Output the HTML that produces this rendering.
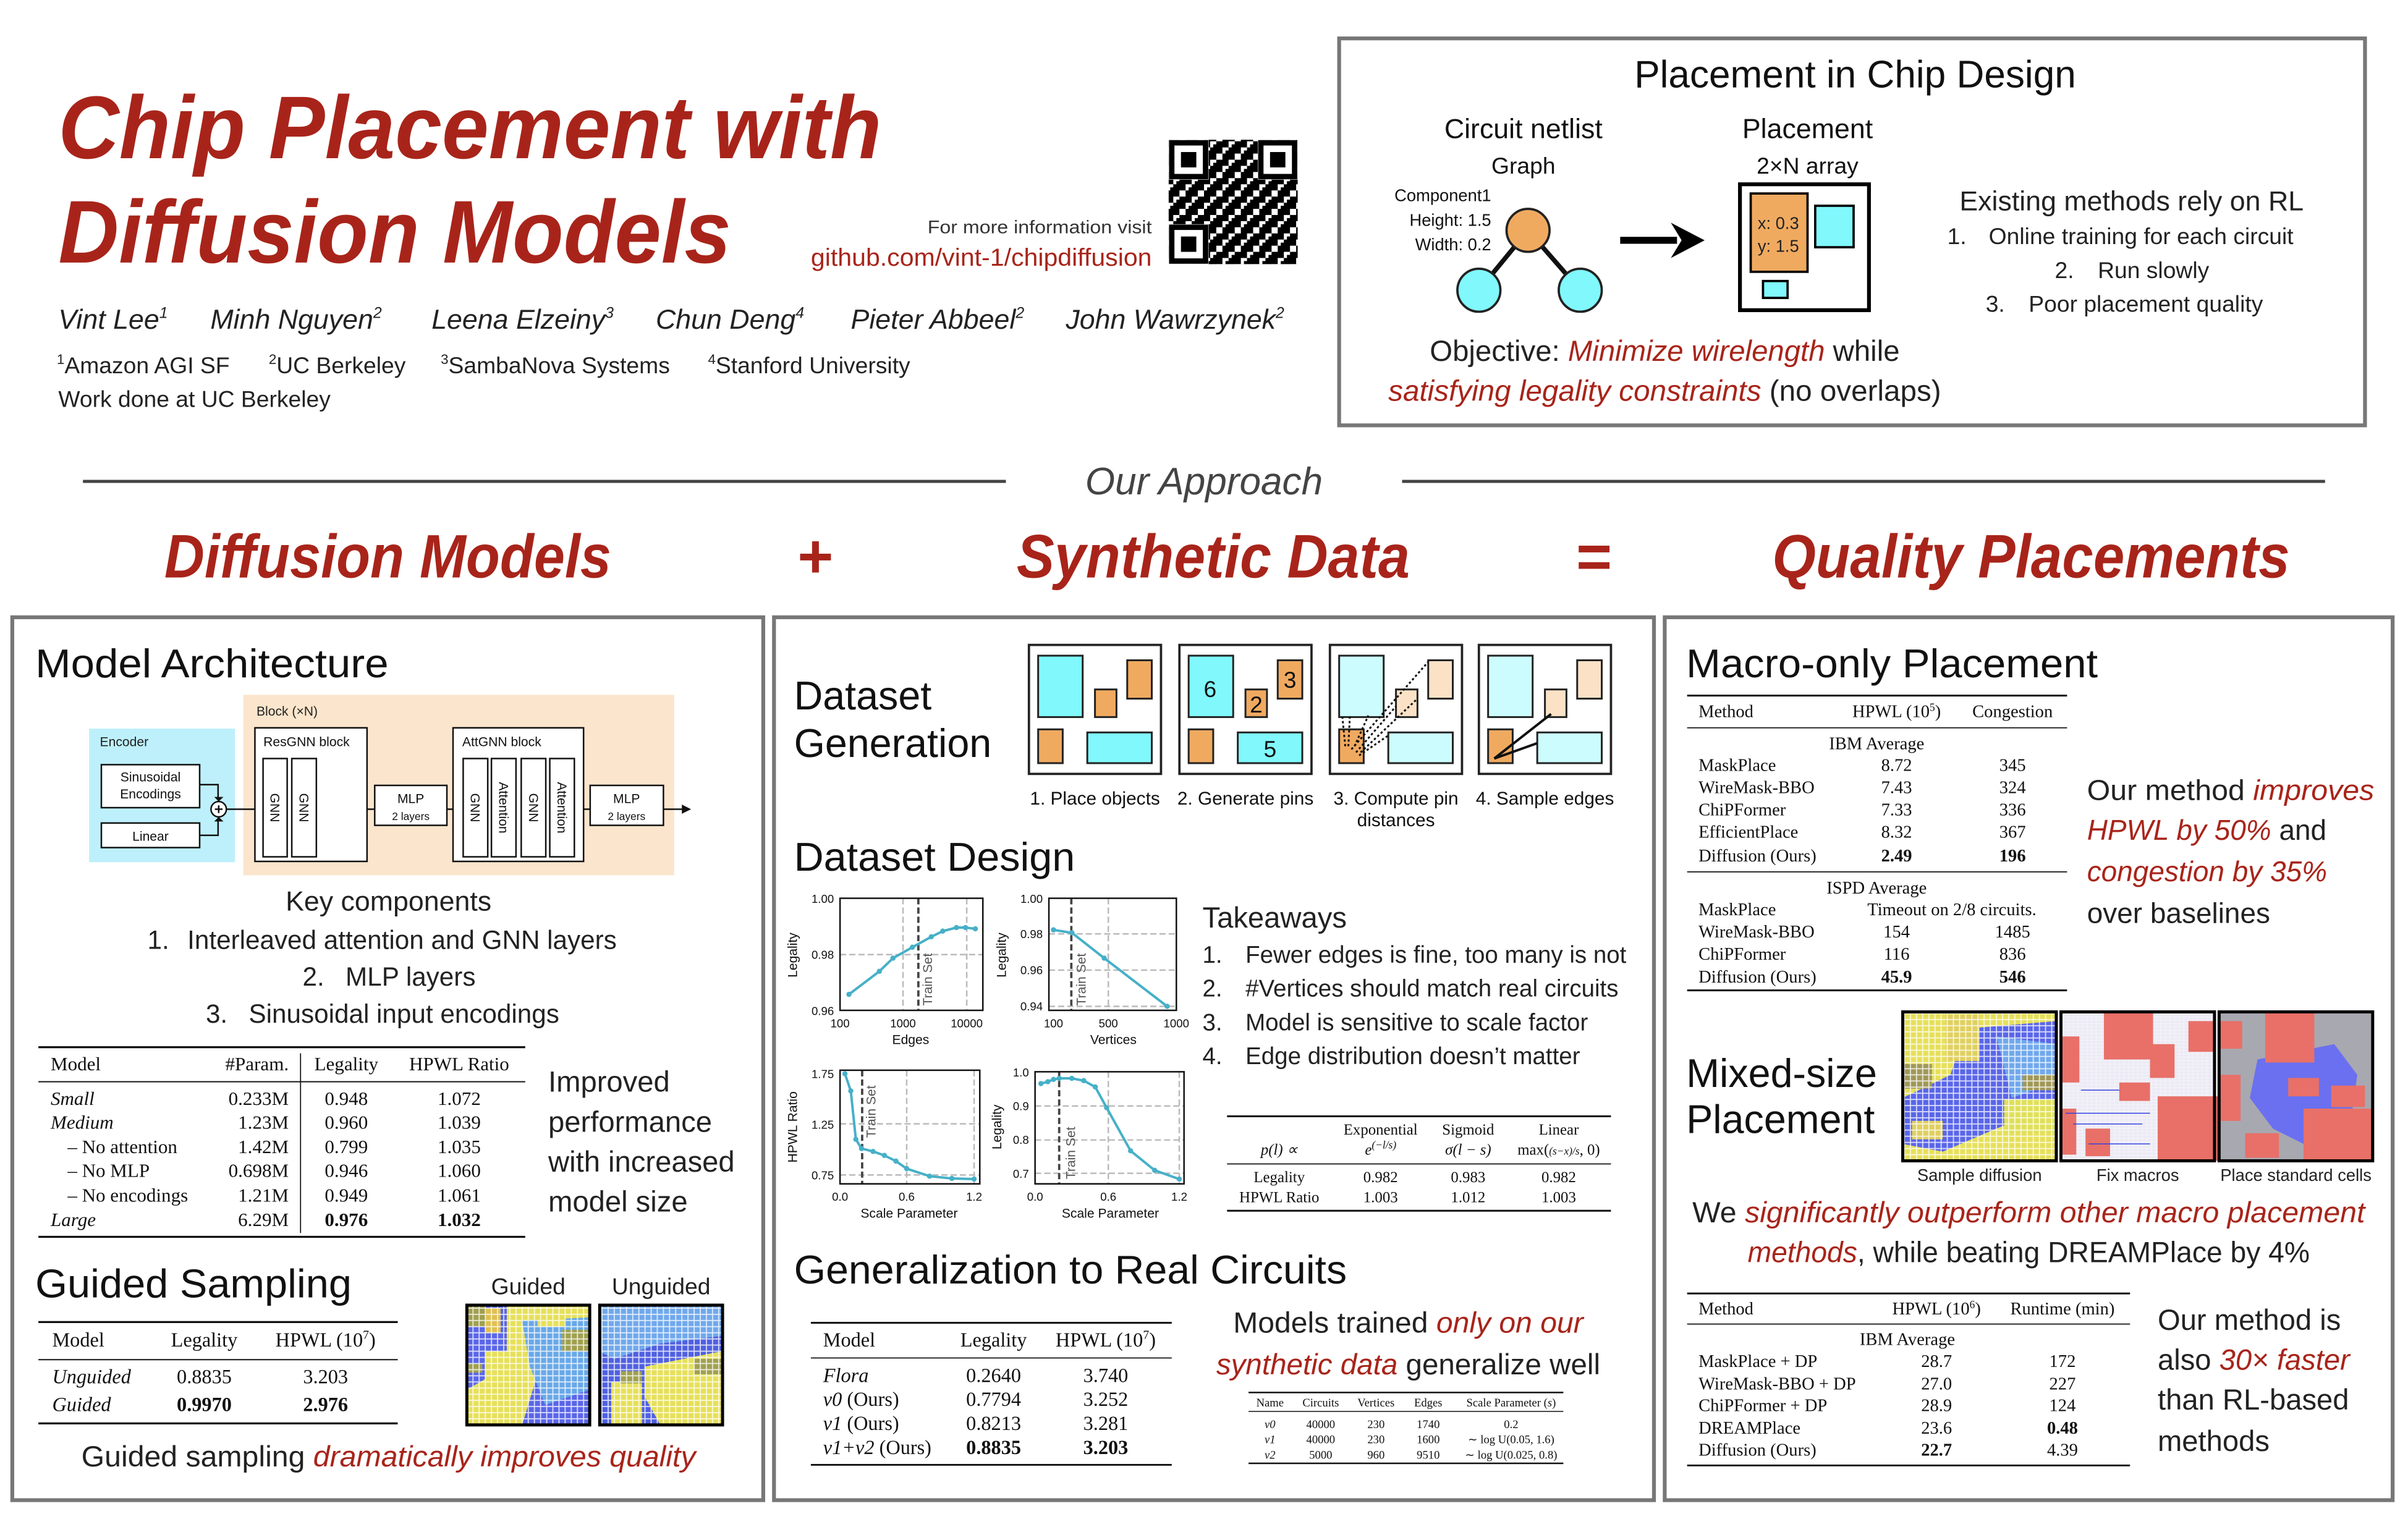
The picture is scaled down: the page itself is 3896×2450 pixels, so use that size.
<!DOCTYPE html>
<html><head><meta charset="utf-8"><style>
html,body{margin:0;padding:0;background:#fff}
svg{display:block}
.s{font-family:"Liberation Sans",sans-serif}
.r{font-family:"Liberation Serif",serif}
.red{fill:#a8241a}
</style></head><body>
<svg width="3896" height="2450" viewBox="0 0 1568 986" xmlns="http://www.w3.org/2000/svg">
<defs>
<pattern id="cells" width="4" height="4" patternUnits="userSpaceOnUse"><rect width="4" height="4" fill="none" stroke="#fff" stroke-width="0.7" opacity="0.8"/></pattern>
<pattern id="cells2" width="3" height="2.2" patternUnits="userSpaceOnUse"><rect width="3" height="2.2" fill="none" stroke="#fff" stroke-width="0.5" opacity="0.7"/></pattern>
<pattern id="qr" width="12" height="12" patternUnits="userSpaceOnUse"><rect width="12" height="12" fill="#fff"/><rect x="0" y="0" width="4" height="4"/><rect x="8" y="0" width="4" height="8"/><rect x="4" y="4" width="4" height="4"/><rect x="0" y="8" width="8" height="4"/><rect x="6" y="2" width="2" height="2"/><rect x="10" y="10" width="2" height="2"/></pattern>
</defs>
<rect width="1568" height="986" fill="#fff"/>

<!-- HEADER -->
<g class="s red" font-weight="bold" font-style="italic">
<text x="38" y="103" font-size="58" textLength="536" lengthAdjust="spacingAndGlyphs">Chip Placement with</text>
<text x="38" y="171" font-size="58" textLength="438" lengthAdjust="spacingAndGlyphs">Diffusion Models</text>
</g>
<text class="s" x="750" y="152" font-size="12" fill="#333" text-anchor="end" textLength="146" lengthAdjust="spacingAndGlyphs">For more information visit</text>
<text class="s red" x="750" y="173" font-size="16" text-anchor="end" textLength="222" lengthAdjust="spacingAndGlyphs">github.com/vint-1/chipdiffusion</text>
<!-- QR -->
<rect x="761" y="91" width="84" height="81" fill="url(#qr)"/>
<g fill="#fff"><rect x="761" y="91" width="26" height="26"/><rect x="819" y="91" width="26" height="26"/><rect x="761" y="146" width="26" height="26"/></g>
<g fill="none" stroke="#000" stroke-width="3.5"><rect x="763" y="93" width="22" height="22"/><rect x="821" y="93" width="22" height="22"/><rect x="763" y="148" width="22" height="22"/></g>
<g><rect x="769" y="99" width="10" height="10"/><rect x="827" y="99" width="10" height="10"/><rect x="769" y="154" width="10" height="10"/></g>

<g class="s" font-size="18" font-style="italic" fill="#222">
<text x="38" y="214">Vint Lee<tspan font-size="10" dy="-7">1</tspan></text>
<text x="137" y="214">Minh Nguyen<tspan font-size="10" dy="-7">2</tspan></text>
<text x="281" y="214">Leena Elzeiny<tspan font-size="10" dy="-7">3</tspan></text>
<text x="427" y="214">Chun Deng<tspan font-size="10" dy="-7">4</tspan></text>
<text x="554" y="214">Pieter Abbeel<tspan font-size="10" dy="-7">2</tspan></text>
<text x="694" y="214">John Wawrzynek<tspan font-size="10" dy="-7">2</tspan></text>
</g>
<g class="s" font-size="15" fill="#222">
<text x="37" y="243"><tspan font-size="9" dy="-6">1</tspan><tspan dy="6">Amazon AGI SF</tspan></text>
<text x="175" y="243"><tspan font-size="9" dy="-6">2</tspan><tspan dy="6">UC Berkeley</tspan></text>
<text x="287" y="243"><tspan font-size="9" dy="-6">3</tspan><tspan dy="6">SambaNova Systems</tspan></text>
<text x="461" y="243"><tspan font-size="9" dy="-6">4</tspan><tspan dy="6">Stanford University</tspan></text>
<text x="38" y="265">Work done at UC Berkeley</text>
</g>

<!-- Top right box -->
<rect x="872" y="25" width="668" height="252" fill="none" stroke="#777" stroke-width="2.5"/>
<g class="s" fill="#111">
<text x="1208" y="57" font-size="25" text-anchor="middle">Placement in Chip Design</text>
<text x="992" y="90" font-size="18" text-anchor="middle">Circuit netlist</text>
<text x="992" y="113" font-size="15" text-anchor="middle">Graph</text>
<text x="1177" y="90" font-size="18" text-anchor="middle">Placement</text>
<text x="1177" y="113" font-size="15" text-anchor="middle">2×N array</text>
<text x="971" y="131" font-size="11" text-anchor="end">Component1</text>
<text x="971" y="147" font-size="11" text-anchor="end">Height: 1.5</text>
<text x="971" y="163" font-size="11" text-anchor="end">Width: 0.2</text>
</g>
<g stroke="#111" stroke-width="3"><line x1="995" y1="150" x2="963" y2="189"/><line x1="995" y1="150" x2="1029" y2="189"/></g>
<g stroke="#222" stroke-width="1.5"><ellipse cx="995" cy="150" rx="14" ry="14" fill="#f0aa60"/><ellipse cx="963" cy="189" rx="14" ry="14" fill="#80f8fc"/><ellipse cx="1029" cy="189" rx="14" ry="14" fill="#80f8fc"/></g>
<line x1="1055" y1="156.5" x2="1092" y2="156.5" stroke="#000" stroke-width="4.5"/>
<polygon points="1088,145 1110,156.5 1088,168 1095,156.5" fill="#000"/>
<rect x="1133" y="120" width="84" height="82" fill="#fff" stroke="#000" stroke-width="2.5"/>
<rect x="1140" y="126" width="37" height="51" fill="#f0aa60" stroke="#000" stroke-width="1.5"/>
<rect x="1182" y="134" width="25" height="27" fill="#80f8fc" stroke="#000" stroke-width="1.5"/>
<rect x="1148" y="183" width="16" height="11" fill="#80f8fc" stroke="#000" stroke-width="1.5"/>
<g class="s" font-size="11" fill="#222" text-anchor="middle"><text x="1158" y="149">x: 0.3</text><text x="1158" y="164">y: 1.5</text></g>
<g class="s" fill="#222">
<text x="1388" y="137" font-size="18" text-anchor="middle">Existing methods rely on RL</text>
<text x="1268" y="159" font-size="15">1.</text><text x="1295" y="159" font-size="15">Online training for each circuit</text>
<text x="1338" y="181" font-size="15">2.</text><text x="1366" y="181" font-size="15">Run slowly</text>
<text x="1293" y="203" font-size="15">3.</text><text x="1321" y="203" font-size="15">Poor placement quality</text>
<text x="931" y="235" font-size="19" textLength="306" lengthAdjust="spacingAndGlyphs">Objective: <tspan class="red" font-style="italic">Minimize wirelength</tspan> while</text>
<text x="904" y="261" font-size="19" textLength="360" lengthAdjust="spacingAndGlyphs"><tspan class="red" font-style="italic">satisfying legality constraints</tspan> (no overlaps)</text>
</g>

<!-- Our Approach -->
<line x1="54" y1="313.5" x2="655" y2="313.5" stroke="#444" stroke-width="2"/>
<line x1="913" y1="313.5" x2="1514" y2="313.5" stroke="#444" stroke-width="2"/>
<text class="s" x="784" y="322" font-size="25" font-style="italic" fill="#444" text-anchor="middle">Our Approach</text>
<g class="s red" font-weight="bold" font-style="italic" font-size="40">
<text x="107" y="376" textLength="291" lengthAdjust="spacingAndGlyphs">Diffusion Models</text>
<text x="531" y="376" text-anchor="middle" font-style="normal">+</text>
<text x="662" y="376" textLength="256" lengthAdjust="spacingAndGlyphs">Synthetic Data</text>
<text x="1038" y="376" text-anchor="middle" font-style="normal">=</text>
<text x="1154" y="376" textLength="337" lengthAdjust="spacingAndGlyphs">Quality Placements</text>
</g>

<!-- Panels -->
<g fill="none" stroke="#777" stroke-width="2.5">
<rect x="8" y="402" width="489" height="575"/>
<rect x="504" y="402" width="573" height="575"/>
<rect x="1084" y="402" width="474" height="575"/>
</g>

<!-- LEFT PANEL -->
<text class="s" x="23" y="441" font-size="26" fill="#111" textLength="230" lengthAdjust="spacingAndGlyphs">Model Architecture</text>
<rect x="158.5" y="452.5" width="280.5" height="117.5" fill="#fbe5cc"/>
<rect x="58" y="474.5" width="95" height="87" fill="#bdf0fb"/>
<g class="s" font-size="8.5" fill="#222">
<text x="167" y="466">Block (×N)</text>
<text x="65" y="486">Encoder</text>
</g>
<g fill="#fff" stroke="#111" stroke-width="1">
<rect x="66" y="498" width="64" height="28"/>
<rect x="66" y="536" width="64" height="16"/>
<rect x="166" y="474" width="73" height="87"/>
<rect x="171.3" y="494" width="15.7" height="64"/>
<rect x="190" y="494" width="16" height="64"/>
<rect x="244" y="511.5" width="47" height="26"/>
<rect x="295" y="474" width="85" height="87"/>
<rect x="301.6" y="494" width="16" height="64"/>
<rect x="320" y="494" width="16" height="64"/>
<rect x="339.4" y="494" width="16" height="64"/>
<rect x="358" y="494" width="16" height="64"/>
<rect x="384.3" y="511.5" width="47.7" height="26"/>
</g>
<g stroke="#111" stroke-width="1" fill="none">
<polyline points="130,511 142,511 142,520"/>
<polyline points="130,544 142,544 142,534"/>
<circle cx="142.4" cy="527" r="5" fill="#fff"/>
<line x1="147.5" y1="527" x2="166" y2="527"/>
<line x1="239" y1="527" x2="244" y2="527"/>
<line x1="291" y1="527" x2="295" y2="527"/>
<line x1="380" y1="527" x2="384" y2="527"/>
<line x1="432" y1="527" x2="446" y2="527"/>
<line x1="139.9" y1="527" x2="144.9" y2="527"/><line x1="142.4" y1="524.5" x2="142.4" y2="529.5"/>
</g>
<g fill="#111"><polygon points="139.5,519 145.5,519 142.4,522"/><polygon points="139.5,535 145.5,535 142.4,532"/><polygon points="444,524 450,527 444,530"/></g>
<g class="s" font-size="8.5" fill="#111" text-anchor="middle">
<text x="98" y="509">Sinusoidal</text><text x="98" y="520">Encodings</text>
<text x="98" y="547.5">Linear</text>
<text x="171.5" y="486" text-anchor="start">ResGNN block</text>
<text x="301" y="486" text-anchor="start">AttGNN block</text>
<text x="267.5" y="523">MLP</text><text x="267.5" y="534" font-size="7">2 layers</text>
<text x="408" y="523">MLP</text><text x="408" y="534" font-size="7">2 layers</text>
<text transform="translate(176,526) rotate(90)">GNN</text>
<text transform="translate(195,526) rotate(90)">GNN</text>
<text transform="translate(306.5,526) rotate(90)">GNN</text>
<text transform="translate(325,526) rotate(90)">Attention</text>
<text transform="translate(344.5,526) rotate(90)">GNN</text>
<text transform="translate(363,526) rotate(90)">Attention</text>
</g>
<g class="s" fill="#222" font-size="17">
<text x="253" y="593" text-anchor="middle" font-size="18">Key components</text>
<text x="96" y="618">1.</text><text x="122" y="618">Interleaved attention and GNN layers</text>
<text x="197" y="642">2.</text><text x="225" y="642">MLP layers</text>
<text x="134" y="666">3.</text><text x="162" y="666">Sinusoidal input encodings</text>
</g>
<g stroke="#111"><line x1="25" y1="682" x2="342" y2="682" stroke-width="1.3"/><line x1="25" y1="704.5" x2="342" y2="704.5" stroke-width="0.8"/><line x1="25" y1="805.5" x2="342" y2="805.5" stroke-width="1.3"/><line x1="195.7" y1="686" x2="195.7" y2="803" stroke-width="0.7"/></g>
<g class="r" font-size="12.5" fill="#111">
<text x="33" y="697">Model</text><text x="188" y="697" text-anchor="end">#Param.</text><text x="225.5" y="697" text-anchor="middle">Legality</text><text x="299" y="697" text-anchor="middle">HPWL Ratio</text>
<text x="33" y="719.5" font-style="italic">Small</text><text x="188" y="719.5" text-anchor="end">0.233M</text><text x="225.5" y="719.5" text-anchor="middle">0.948</text><text x="299" y="719.5" text-anchor="middle">1.072</text>
<text x="33" y="735" font-style="italic">Medium</text><text x="188" y="735" text-anchor="end">1.23M</text><text x="225.5" y="735" text-anchor="middle">0.960</text><text x="299" y="735" text-anchor="middle">1.039</text>
<text x="44" y="751">– No attention</text><text x="188" y="751" text-anchor="end">1.42M</text><text x="225.5" y="751" text-anchor="middle">0.799</text><text x="299" y="751" text-anchor="middle">1.035</text>
<text x="44" y="766.5">– No MLP</text><text x="188" y="766.5" text-anchor="end">0.698M</text><text x="225.5" y="766.5" text-anchor="middle">0.946</text><text x="299" y="766.5" text-anchor="middle">1.060</text>
<text x="44" y="782.5">– No encodings</text><text x="188" y="782.5" text-anchor="end">1.21M</text><text x="225.5" y="782.5" text-anchor="middle">0.949</text><text x="299" y="782.5" text-anchor="middle">1.061</text>
<text x="33" y="798.5" font-style="italic">Large</text><text x="188" y="798.5" text-anchor="end">6.29M</text><text x="225.5" y="798.5" text-anchor="middle" font-weight="bold">0.976</text><text x="299" y="798.5" text-anchor="middle" font-weight="bold">1.032</text>
</g>
<g class="s" font-size="19" fill="#222">
<text x="357" y="711">Improved</text><text x="357" y="737">performance</text><text x="357" y="763">with increased</text><text x="357" y="789">model size</text>
</g>
<text class="s" x="23" y="845" font-size="26" fill="#111" textLength="206" lengthAdjust="spacingAndGlyphs">Guided Sampling</text>
<g class="s" font-size="15" fill="#222" text-anchor="middle"><text x="344" y="843">Guided</text><text x="430.5" y="843">Unguided</text></g>
<!-- guided image -->
<rect x="304" y="850" width="80" height="78" fill="#5a66e8"/>
<path d="M330,850 L384,850 L384,880 L350,895 L340,928 L304,928 L304,905 L330,890 Z" fill="#e6e05a"/>
<path d="M340,860 L384,858 L384,905 L355,915 L345,890 Z" fill="#68a8e8"/>
<rect x="304" y="850" width="12" height="14" fill="#a0a050"/><rect x="316" y="852" width="10" height="16" fill="#e0c050"/>
<rect x="350" y="852" width="18" height="12" fill="#e6e05a"/><rect x="366" y="866" width="18" height="14" fill="#a0a050"/>
<rect x="316" y="880" width="20" height="25" fill="#e6e05a"/><rect x="304" y="888" width="10" height="6" fill="#a0a050"/>
<rect x="304" y="850" width="80" height="78" fill="url(#cells)"/>
<rect x="304" y="850" width="80" height="78" fill="none" stroke="#000" stroke-width="2"/>
<!-- unguided -->
<rect x="390.5" y="850" width="80" height="78" fill="#5060e0"/>
<path d="M390,850 L470,850 L470,870 L430,875 L400,885 L390,880 Z" fill="#70a8ec"/>
<path d="M420,890 L470,880 L470,928 L430,928 L420,910 Z" fill="#e6e05a"/>
<rect x="398" y="900" width="20" height="28" fill="#e6e05a"/><rect x="404" y="893" width="14" height="8" fill="#a0a050"/>
<rect x="452" y="885" width="18" height="10" fill="#a0a050"/>
<rect x="390.5" y="850" width="80" height="78" fill="url(#cells)"/>
<rect x="390.5" y="850" width="80" height="78" fill="none" stroke="#000" stroke-width="2"/>
<g stroke="#111"><line x1="25" y1="861" x2="259" y2="861" stroke-width="1.3"/><line x1="25" y1="885.5" x2="259" y2="885.5" stroke-width="0.8"/><line x1="25" y1="927" x2="259" y2="927" stroke-width="1.3"/></g>
<g class="r" font-size="13" fill="#111">
<text x="34" y="877">Model</text><text x="133" y="877" text-anchor="middle">Legality</text><text x="212" y="877" text-anchor="middle">HPWL (10<tspan font-size="8" dy="-5">7</tspan><tspan dy="5">)</tspan></text>
<text x="34" y="901" font-style="italic">Unguided</text><text x="133" y="901" text-anchor="middle">0.8835</text><text x="212" y="901" text-anchor="middle">3.203</text>
<text x="34" y="919" font-style="italic">Guided</text><text x="133" y="919" text-anchor="middle" font-weight="bold">0.9970</text><text x="212" y="919" text-anchor="middle" font-weight="bold">2.976</text>
</g>
<text class="s" x="253" y="955" font-size="19" fill="#222" text-anchor="middle" textLength="400" lengthAdjust="spacingAndGlyphs">Guided sampling <tspan class="red" font-style="italic">dramatically improves quality</tspan></text>

<!-- MIDDLE PANEL -->
<g class="s" font-size="26" fill="#111">
<text x="517" y="462">Dataset</text><text x="517" y="493">Generation</text>
<text x="517" y="567" textLength="183" lengthAdjust="spacingAndGlyphs">Dataset Design</text>
<text x="517" y="836" textLength="360" lengthAdjust="spacingAndGlyphs">Generalization to Real Circuits</text>
</g>
<!-- gen images -->
<g transform="translate(670,420)">
<rect width="86" height="84" fill="#fff" stroke="#222" stroke-width="1.5"/>
<g stroke="#222" stroke-width="1.2"><rect x="6" y="7" width="29" height="40" fill="#80f8fc"/><rect x="43" y="29" width="14" height="18" fill="#f0aa60"/><rect x="64" y="10" width="16" height="25" fill="#f0aa60"/><rect x="6" y="55" width="16" height="22" fill="#f0aa60"/><rect x="38" y="57" width="42" height="20" fill="#80f8fc"/></g>
</g>
<g transform="translate(768,420)">
<rect width="86" height="84" fill="#fff" stroke="#222" stroke-width="1.5"/>
<g stroke="#222" stroke-width="1.2"><rect x="6" y="7" width="29" height="40" fill="#80f8fc"/><rect x="43" y="29" width="14" height="18" fill="#f0aa60"/><rect x="64" y="10" width="16" height="25" fill="#f0aa60"/><rect x="6" y="55" width="16" height="22" fill="#f0aa60"/><rect x="38" y="57" width="42" height="20" fill="#80f8fc"/></g>
<g class="s" font-size="15" fill="#111" text-anchor="middle"><text x="20" y="34">6</text><text x="50" y="44">2</text><text x="72" y="28">3</text><text x="59" y="73">5</text></g>
</g>
<g transform="translate(866,420)">
<rect width="86" height="84" fill="#fff" stroke="#222" stroke-width="1.5"/>
<g stroke="#222" stroke-width="1.2"><rect x="6" y="7" width="29" height="40" fill="#ccfcfd"/><rect x="43" y="29" width="14" height="18" fill="#fbe2c6"/><rect x="64" y="10" width="16" height="25" fill="#fbe2c6"/><rect x="6" y="55" width="16" height="22" fill="#f0aa60"/><rect x="38" y="57" width="42" height="20" fill="#ccfcfd"/></g>
<g stroke="#111" stroke-width="1.2" stroke-dasharray="1.5,1.5" fill="none"><line x1="14" y1="68" x2="64" y2="11"/><line x1="17" y1="70" x2="43" y2="40"/><line x1="19" y1="72" x2="38" y2="59"/><line x1="12" y1="66" x2="13" y2="46"/><line x1="10" y1="66" x2="8" y2="46"/><line x1="16" y1="66" x2="25" y2="46"/><line x1="20" y1="70" x2="57" y2="35"/></g>
</g>
<g transform="translate(963,420)">
<rect width="86" height="84" fill="#fff" stroke="#222" stroke-width="1.5"/>
<g stroke="#222" stroke-width="1.2"><rect x="6" y="7" width="29" height="40" fill="#ccfcfd"/><rect x="43" y="29" width="14" height="18" fill="#fbe2c6"/><rect x="64" y="10" width="16" height="25" fill="#fbe2c6"/><rect x="6" y="55" width="16" height="22" fill="#f0aa60"/><rect x="38" y="57" width="42" height="20" fill="#ccfcfd"/></g>
<g stroke="#111" stroke-width="1.6"><line x1="10" y1="74" x2="47" y2="45"/><line x1="10" y1="74" x2="38" y2="64"/></g>
</g>
<g class="s" font-size="12" fill="#111" text-anchor="middle">
<text x="713" y="524">1. Place objects</text><text x="811" y="524">2. Generate pins</text><text x="909" y="524">3. Compute pin</text><text x="909" y="538">distances</text><text x="1006" y="524">4. Sample edges</text>
</g>

<!-- charts -->
<g class="s" font-size="7.5" fill="#111">
<!-- chart1 -->
<g stroke="#bbb" stroke-width="1" stroke-dasharray="4,2"><line x1="588" y1="585" x2="588" y2="658"/><line x1="629.5" y1="585" x2="629.5" y2="658"/><line x1="547" y1="621.7" x2="640" y2="621.7"/></g>
<line x1="598" y1="585" x2="598" y2="658" stroke="#444" stroke-width="1.5" stroke-dasharray="4,2"/>
<rect x="547" y="585" width="93" height="73" fill="none" stroke="#111" stroke-width="1"/>
<polyline points="552.8,647.6 572.6,632.6 581.5,624 594.1,616.9 606.4,610.1 613.9,606.4 622.8,604.1 628.7,604.1 635.1,604.9" fill="none" stroke="#46b0c8" stroke-width="1.6"/>
<g fill="#46b0c8"><circle cx="552.8" cy="647.6" r="1.7"/><circle cx="572.6" cy="632.6" r="1.7"/><circle cx="581.5" cy="624" r="1.7"/><circle cx="594.1" cy="616.9" r="1.7"/><circle cx="606.4" cy="610.1" r="1.7"/><circle cx="613.9" cy="606.4" r="1.7"/><circle cx="622.8" cy="604.1" r="1.7"/><circle cx="628.7" cy="604.1" r="1.7"/><circle cx="635.1" cy="604.9" r="1.7"/></g>
<text transform="translate(607,655) rotate(-90)" font-size="8.5" fill="#555">Train Set</text>
<text x="543" y="588" text-anchor="end">1.00</text><text x="543" y="624.5" text-anchor="end">0.98</text><text x="543" y="661" text-anchor="end">0.96</text>
<text x="547" y="669" text-anchor="middle">100</text><text x="588" y="669" text-anchor="middle">1000</text><text x="629.5" y="669" text-anchor="middle">10000</text>
<text x="593" y="680" text-anchor="middle" font-size="8.5">Edges</text>
<text transform="translate(519,622) rotate(-90)" text-anchor="middle" font-size="8.5">Legality</text>
<!-- chart2 -->
<g stroke="#bbb" stroke-width="1" stroke-dasharray="4,2"><line x1="721.7" y1="585" x2="721.7" y2="658"/><line x1="683" y1="608.2" x2="766" y2="608.2"/><line x1="683" y1="631.8" x2="766" y2="631.8"/><line x1="683" y1="655.4" x2="766" y2="655.4"/></g>
<line x1="697.6" y1="585" x2="697.6" y2="658" stroke="#444" stroke-width="1.5" stroke-dasharray="4,2"/>
<rect x="683" y="585" width="83" height="73" fill="none" stroke="#111" stroke-width="1"/>
<polyline points="686,605.6 698,607.5 719,624 760,655.4" fill="none" stroke="#46b0c8" stroke-width="1.6"/>
<g fill="#46b0c8"><circle cx="686" cy="605.6" r="1.7"/><circle cx="698" cy="607.5" r="1.7"/><circle cx="719" cy="624" r="1.7"/><circle cx="760" cy="655.4" r="1.7"/></g>
<text transform="translate(707,655) rotate(-90)" font-size="8.5" fill="#555">Train Set</text>
<text x="679" y="588" text-anchor="end">1.00</text><text x="679" y="611" text-anchor="end">0.98</text><text x="679" y="634.5" text-anchor="end">0.96</text><text x="679" y="658" text-anchor="end">0.94</text>
<text x="686" y="669" text-anchor="middle">100</text><text x="721.7" y="669" text-anchor="middle">500</text><text x="766" y="669" text-anchor="middle">1000</text>
<text x="725" y="680" text-anchor="middle" font-size="8.5">Vertices</text>
<text transform="translate(655,622) rotate(-90)" text-anchor="middle" font-size="8.5">Legality</text>
<!-- chart3 -->
<g stroke="#bbb" stroke-width="1" stroke-dasharray="4,2"><line x1="590.4" y1="697" x2="590.4" y2="771"/><line x1="634.3" y1="697" x2="634.3" y2="771"/><line x1="547" y1="731.9" x2="638" y2="731.9"/><line x1="547" y1="765.2" x2="638" y2="765.2"/></g>
<line x1="561.4" y1="697" x2="561.4" y2="771" stroke="#444" stroke-width="1.5" stroke-dasharray="4,2"/>
<rect x="547" y="697" width="91" height="74" fill="none" stroke="#111" stroke-width="1"/>
<polyline points="550.2,699.3 554,710.5 557.3,742 561,748 568.5,749.9 575.9,752.5 583.4,756.2 590.4,761.1 605.3,766 619.8,767.5 634.3,767.9" fill="none" stroke="#46b0c8" stroke-width="1.6"/>
<g fill="#46b0c8"><circle cx="550.2" cy="699.3" r="1.7"/><circle cx="554" cy="710.5" r="1.7"/><circle cx="557.3" cy="742" r="1.7"/><circle cx="561" cy="748" r="1.7"/><circle cx="568.5" cy="749.9" r="1.7"/><circle cx="575.9" cy="752.5" r="1.7"/><circle cx="583.4" cy="756.2" r="1.7"/><circle cx="590.4" cy="761.1" r="1.7"/><circle cx="605.3" cy="766" r="1.7"/><circle cx="619.8" cy="767.5" r="1.7"/><circle cx="634.3" cy="767.9" r="1.7"/></g>
<text transform="translate(570,741) rotate(-90)" font-size="8.5" fill="#555">Train Set</text>
<text x="543" y="702" text-anchor="end">1.75</text><text x="543" y="735" text-anchor="end">1.25</text><text x="543" y="768" text-anchor="end">0.75</text>
<text x="547" y="782" text-anchor="middle">0.0</text><text x="590.4" y="782" text-anchor="middle">0.6</text><text x="634.3" y="782" text-anchor="middle">1.2</text>
<text x="592" y="793" text-anchor="middle" font-size="8.5">Scale Parameter</text>
<text transform="translate(519,734) rotate(-90)" text-anchor="middle" font-size="8.5">HPWL Ratio</text>
<!-- chart4 -->
<g stroke="#bbb" stroke-width="1" stroke-dasharray="4,2"><line x1="721.7" y1="698" x2="721.7" y2="771"/><line x1="767.9" y1="698" x2="767.9" y2="771"/><line x1="674" y1="720.3" x2="771" y2="720.3"/><line x1="674" y1="742.4" x2="771" y2="742.4"/><line x1="674" y1="764.1" x2="771" y2="764.1"/></g>
<line x1="689.7" y1="698" x2="689.7" y2="771" stroke="#444" stroke-width="1.5" stroke-dasharray="4,2"/>
<rect x="674" y="698" width="97" height="73" fill="none" stroke="#111" stroke-width="1"/>
<polyline points="677.8,705.7 682.3,704.5 686,703 689.7,702.3 697.9,702.3 705.7,703.8 713.2,707.9 720.6,721.4 736.2,749.5 751.9,762.2 767.9,767.9" fill="none" stroke="#46b0c8" stroke-width="1.6"/>
<g fill="#46b0c8"><circle cx="677.8" cy="705.7" r="1.7"/><circle cx="682.3" cy="704.5" r="1.7"/><circle cx="686" cy="703" r="1.7"/><circle cx="689.7" cy="702.3" r="1.7"/><circle cx="697.9" cy="702.3" r="1.7"/><circle cx="705.7" cy="703.8" r="1.7"/><circle cx="713.2" cy="707.9" r="1.7"/><circle cx="720.6" cy="721.4" r="1.7"/><circle cx="736.2" cy="749.5" r="1.7"/><circle cx="751.9" cy="762.2" r="1.7"/><circle cx="767.9" cy="767.9" r="1.7"/></g>
<text transform="translate(700,768) rotate(-90)" font-size="8.5" fill="#555">Train Set</text>
<text x="670" y="701" text-anchor="end">1.0</text><text x="670" y="723" text-anchor="end">0.9</text><text x="670" y="745" text-anchor="end">0.8</text><text x="670" y="767" text-anchor="end">0.7</text>
<text x="674" y="782" text-anchor="middle">0.0</text><text x="721.7" y="782" text-anchor="middle">0.6</text><text x="767.9" y="782" text-anchor="middle">1.2</text>
<text x="723" y="793" text-anchor="middle" font-size="8.5">Scale Parameter</text>
<text transform="translate(652,734) rotate(-90)" text-anchor="middle" font-size="8.5">Legality</text>
</g>

<g class="s" fill="#222" font-size="15.5">
<text x="783" y="604" font-size="19">Takeaways</text>
<text x="783" y="627">1.</text><text x="811" y="627">Fewer edges is fine, too many is not</text>
<text x="783" y="649">2.</text><text x="811" y="649">#Vertices should match real circuits</text>
<text x="783" y="671">3.</text><text x="811" y="671">Model is sensitive to scale factor</text>
<text x="783" y="693">4.</text><text x="811" y="693">Edge distribution doesn’t matter</text>
</g>
<g stroke="#111"><line x1="799" y1="727" x2="1049" y2="727" stroke-width="1.2"/><line x1="799" y1="758" x2="1049" y2="758" stroke-width="0.7"/><line x1="799" y1="788.5" x2="1049" y2="788.5" stroke-width="1.2"/></g>
<g class="r" font-size="10" fill="#111" text-anchor="middle">
<text x="899" y="739">Exponential</text><text x="956" y="739">Sigmoid</text><text x="1015" y="739">Linear</text>
<text x="833" y="752" font-style="italic">p(l) ∝</text><text x="899" y="752" font-style="italic">e<tspan font-size="7" dy="-4">(−l/s)</tspan></text><text x="956" y="752" font-style="italic">σ(l − s)</text><text x="1015" y="752">max(<tspan font-size="7" font-style="italic">(s−x)/s</tspan>, 0)</text>
<text x="833" y="770">Legality</text><text x="899" y="770">0.982</text><text x="956" y="770">0.983</text><text x="1015" y="770">0.982</text>
<text x="833" y="783">HPWL Ratio</text><text x="899" y="783">1.003</text><text x="956" y="783">1.012</text><text x="1015" y="783">1.003</text>
</g>
<g stroke="#111"><line x1="528" y1="861.5" x2="763" y2="861.5" stroke-width="1.2"/><line x1="528" y1="884.4" x2="763" y2="884.4" stroke-width="0.7"/><line x1="528" y1="954" x2="763" y2="954" stroke-width="1.2"/></g>
<g class="r" font-size="13" fill="#111">
<text x="536" y="877">Model</text><text x="647" y="877" text-anchor="middle">Legality</text><text x="720" y="877" text-anchor="middle">HPWL (10<tspan font-size="8" dy="-5">7</tspan><tspan dy="5">)</tspan></text>
<text x="536" y="900" font-style="italic">Flora</text><text x="647" y="900" text-anchor="middle">0.2640</text><text x="720" y="900" text-anchor="middle">3.740</text>
<text x="536" y="915.6"><tspan font-style="italic">v0</tspan> (Ours)</text><text x="647" y="915.6" text-anchor="middle">0.7794</text><text x="720" y="915.6" text-anchor="middle">3.252</text>
<text x="536" y="931.3"><tspan font-style="italic">v1</tspan> (Ours)</text><text x="647" y="931.3" text-anchor="middle">0.8213</text><text x="720" y="931.3" text-anchor="middle">3.281</text>
<text x="536" y="947"><tspan font-style="italic">v1+v2</tspan> (Ours)</text><text x="647" y="947" text-anchor="middle" font-weight="bold">0.8835</text><text x="720" y="947" text-anchor="middle" font-weight="bold">3.203</text>
</g>
<g class="s" font-size="19" fill="#222" text-anchor="middle">
<text x="917" y="868" textLength="228" lengthAdjust="spacingAndGlyphs">Models trained <tspan class="red" font-style="italic">only on our</tspan></text>
<text x="917" y="895" textLength="250" lengthAdjust="spacingAndGlyphs"><tspan class="red" font-style="italic">synthetic data</tspan> generalize well</text>
</g>
<g stroke="#111"><line x1="813" y1="906.9" x2="1018" y2="906.9" stroke-width="1"/><line x1="813" y1="919.2" x2="1018" y2="919.2" stroke-width="0.6"/><line x1="813" y1="953" x2="1018" y2="953" stroke-width="1"/></g>
<g class="r" font-size="7.5" fill="#111" text-anchor="middle">
<text x="827" y="916">Name</text><text x="860" y="916">Circuits</text><text x="896" y="916">Vertices</text><text x="930" y="916">Edges</text><text x="984" y="916">Scale Parameter (<tspan font-style="italic">s</tspan>)</text>
<text x="827" y="930" font-style="italic">v0</text><text x="860" y="930">40000</text><text x="896" y="930">230</text><text x="930" y="930">1740</text><text x="984" y="930">0.2</text>
<text x="827" y="940" font-style="italic">v1</text><text x="860" y="940">40000</text><text x="896" y="940">230</text><text x="930" y="940">1600</text><text x="984" y="940">∼ log U(0.05, 1.6)</text>
<text x="827" y="950" font-style="italic">v2</text><text x="860" y="950">5000</text><text x="896" y="950">960</text><text x="930" y="950">9510</text><text x="984" y="950">∼ log U(0.025, 0.8)</text>
</g>

<!-- RIGHT PANEL -->
<text class="s" x="1098" y="441" font-size="26" fill="#111" textLength="268" lengthAdjust="spacingAndGlyphs">Macro-only Placement</text>
<g stroke="#111"><line x1="1098.6" y1="453" x2="1346" y2="453" stroke-width="1.2"/><line x1="1098.6" y1="474" x2="1346" y2="474" stroke-width="0.7"/><line x1="1098.6" y1="567.8" x2="1346" y2="567.8" stroke-width="0.7"/><line x1="1098.6" y1="645" x2="1346" y2="645" stroke-width="1.2"/></g>
<g class="r" font-size="11.5" fill="#111">
<text x="1106" y="467">Method</text><text x="1235" y="467" text-anchor="middle">HPWL (10<tspan font-size="7" dy="-4">5</tspan><tspan dy="4">)</tspan></text><text x="1310.5" y="467" text-anchor="middle">Congestion</text>
<text x="1222" y="488" text-anchor="middle">IBM Average</text>
<text x="1106" y="502">MaskPlace</text><text x="1235" y="502" text-anchor="middle">8.72</text><text x="1310.5" y="502" text-anchor="middle">345</text>
<text x="1106" y="516.5">WireMask-BBO</text><text x="1235" y="516.5" text-anchor="middle">7.43</text><text x="1310.5" y="516.5" text-anchor="middle">324</text>
<text x="1106" y="531">ChiPFormer</text><text x="1235" y="531" text-anchor="middle">7.33</text><text x="1310.5" y="531" text-anchor="middle">336</text>
<text x="1106" y="545.5">EfficientPlace</text><text x="1235" y="545.5" text-anchor="middle">8.32</text><text x="1310.5" y="545.5" text-anchor="middle">367</text>
<text x="1106" y="561">Diffusion (Ours)</text><text x="1235" y="561" text-anchor="middle" font-weight="bold">2.49</text><text x="1310.5" y="561" text-anchor="middle" font-weight="bold">196</text>
<text x="1222" y="582" text-anchor="middle">ISPD Average</text>
<text x="1106" y="596">MaskPlace</text><text x="1271" y="596" text-anchor="middle">Timeout on 2/8 circuits.</text>
<text x="1106" y="610.5">WireMask-BBO</text><text x="1235" y="610.5" text-anchor="middle">154</text><text x="1310.5" y="610.5" text-anchor="middle">1485</text>
<text x="1106" y="625">ChiPFormer</text><text x="1235" y="625" text-anchor="middle">116</text><text x="1310.5" y="625" text-anchor="middle">836</text>
<text x="1106" y="640">Diffusion (Ours)</text><text x="1235" y="640" text-anchor="middle" font-weight="bold">45.9</text><text x="1310.5" y="640" text-anchor="middle" font-weight="bold">546</text>
</g>
<g class="s" font-size="18.5" fill="#222">
<text x="1359" y="521" textLength="187" lengthAdjust="spacingAndGlyphs">Our method <tspan class="red" font-style="italic">improves</tspan></text>
<text x="1359" y="547"><tspan class="red" font-style="italic">HPWL by 50%</tspan> and</text>
<text x="1359" y="574" class="red" font-style="italic">congestion by 35%</text>
<text x="1359" y="601">over baselines</text>
</g>
<g class="s" font-size="26" fill="#111"><text x="1098" y="708">Mixed-size</text><text x="1098" y="738">Placement</text></g>
<!-- mixed images -->
<rect x="1239" y="659" width="100" height="97" fill="#e6e05a"/>
<path d="M1280,670 L1339,665 L1339,720 L1300,735 L1265,750 L1239,745 L1239,715 L1270,700 Z" fill="#5a66e8"/>
<path d="M1300,675 L1339,680 L1339,705 L1310,715 Z" fill="#70a8ec"/>
<rect x="1267" y="661" width="22" height="30" fill="#e0d060"/><rect x="1240" y="693" width="18" height="16" fill="#a09858"/><rect x="1317" y="700" width="22" height="10" fill="#a09858"/><rect x="1305" y="716" width="34" height="22" fill="#e0e05a"/><rect x="1245" y="730" width="20" height="12" fill="#e0d060"/>
<rect x="1239" y="659" width="100" height="97" fill="url(#cells)"/>
<rect x="1239" y="659" width="100" height="97" fill="none" stroke="#000" stroke-width="2"/>
<rect x="1342" y="659" width="100" height="97" fill="#eceaf4"/>
<rect x="1342" y="659" width="100" height="97" fill="url(#cells2)" opacity="0.6"/>
<g fill="#e87068"><rect x="1370" y="660" width="32" height="30"/><rect x="1342" y="675" width="12" height="30"/><rect x="1400" y="680" width="16" height="22"/><rect x="1425" y="665" width="17" height="20"/><rect x="1380" y="705" width="20" height="12"/><rect x="1405" y="714" width="40" height="42"/><rect x="1358" y="735" width="16" height="18"/><rect x="1342" y="722" width="10" height="30"/></g>
<g stroke="#3040e0" stroke-width="0.6"><line x1="1345" y1="725" x2="1400" y2="725"/><line x1="1350" y1="732" x2="1395" y2="732"/><line x1="1360" y1="745" x2="1400" y2="745"/><line x1="1355" y1="710" x2="1380" y2="710"/></g>
<rect x="1342" y="659" width="100" height="97" fill="none" stroke="#000" stroke-width="2"/>
<rect x="1445" y="659" width="100" height="97" fill="#a8a8b0"/>
<path d="M1470,690 L1520,680 L1535,700 L1530,735 L1500,745 L1480,735 L1465,715 Z" fill="#6a70f0"/>
<g fill="#e87068"><rect x="1475" y="660" width="32" height="32"/><rect x="1445" y="700" width="14" height="30"/><rect x="1490" y="702" width="20" height="12"/><rect x="1518" y="707" width="22" height="14"/><rect x="1500" y="722" width="45" height="34"/><rect x="1462" y="738" width="22" height="16"/><rect x="1445" y="665" width="15" height="18"/></g>
<rect x="1445" y="659" width="100" height="97" fill="none" stroke="#000" stroke-width="2"/>
<g class="s" font-size="11" fill="#222" text-anchor="middle"><text x="1289" y="769">Sample diffusion</text><text x="1392" y="769">Fix macros</text><text x="1495" y="769">Place standard cells</text></g>
<g class="s" font-size="19" fill="#222" text-anchor="middle">
<text x="1321" y="796" textLength="438" lengthAdjust="spacingAndGlyphs">We <tspan class="red" font-style="italic">significantly outperform other macro placement</tspan></text>
<text x="1321" y="822" textLength="366" lengthAdjust="spacingAndGlyphs"><tspan class="red" font-style="italic">methods</tspan>, while beating DREAMPlace by 4%</text>
</g>
<g stroke="#111"><line x1="1098.6" y1="842.4" x2="1387" y2="842.4" stroke-width="1.2"/><line x1="1098.6" y1="862.3" x2="1387" y2="862.3" stroke-width="0.7"/><line x1="1098.6" y1="954.4" x2="1387" y2="954.4" stroke-width="1.2"/></g>
<g class="r" font-size="11.5" fill="#111">
<text x="1106" y="856">Method</text><text x="1261" y="856" text-anchor="middle">HPWL (10<tspan font-size="7" dy="-4">6</tspan><tspan dy="4">)</tspan></text><text x="1343" y="856" text-anchor="middle">Runtime (min)</text>
<text x="1242" y="876" text-anchor="middle">IBM Average</text>
<text x="1106" y="890.3">MaskPlace + DP</text><text x="1261" y="890.3" text-anchor="middle">28.7</text><text x="1343" y="890.3" text-anchor="middle">172</text>
<text x="1106" y="905">WireMask-BBO + DP</text><text x="1261" y="905" text-anchor="middle">27.0</text><text x="1343" y="905" text-anchor="middle">227</text>
<text x="1106" y="919">ChiPFormer + DP</text><text x="1261" y="919" text-anchor="middle">28.9</text><text x="1343" y="919" text-anchor="middle">124</text>
<text x="1106" y="933.7">DREAMPlace</text><text x="1261" y="933.7" text-anchor="middle">23.6</text><text x="1343" y="933.7" text-anchor="middle" font-weight="bold">0.48</text>
<text x="1106" y="948">Diffusion (Ours)</text><text x="1261" y="948" text-anchor="middle" font-weight="bold">22.7</text><text x="1343" y="948" text-anchor="middle">4.39</text>
</g>
<g class="s" font-size="19" fill="#222">
<text x="1405" y="866">Our method is</text>
<text x="1405" y="892">also <tspan class="red" font-style="italic">30× faster</tspan></text>
<text x="1405" y="918">than RL-based</text>
<text x="1405" y="945">methods</text>
</g>
</svg>
</body></html>
